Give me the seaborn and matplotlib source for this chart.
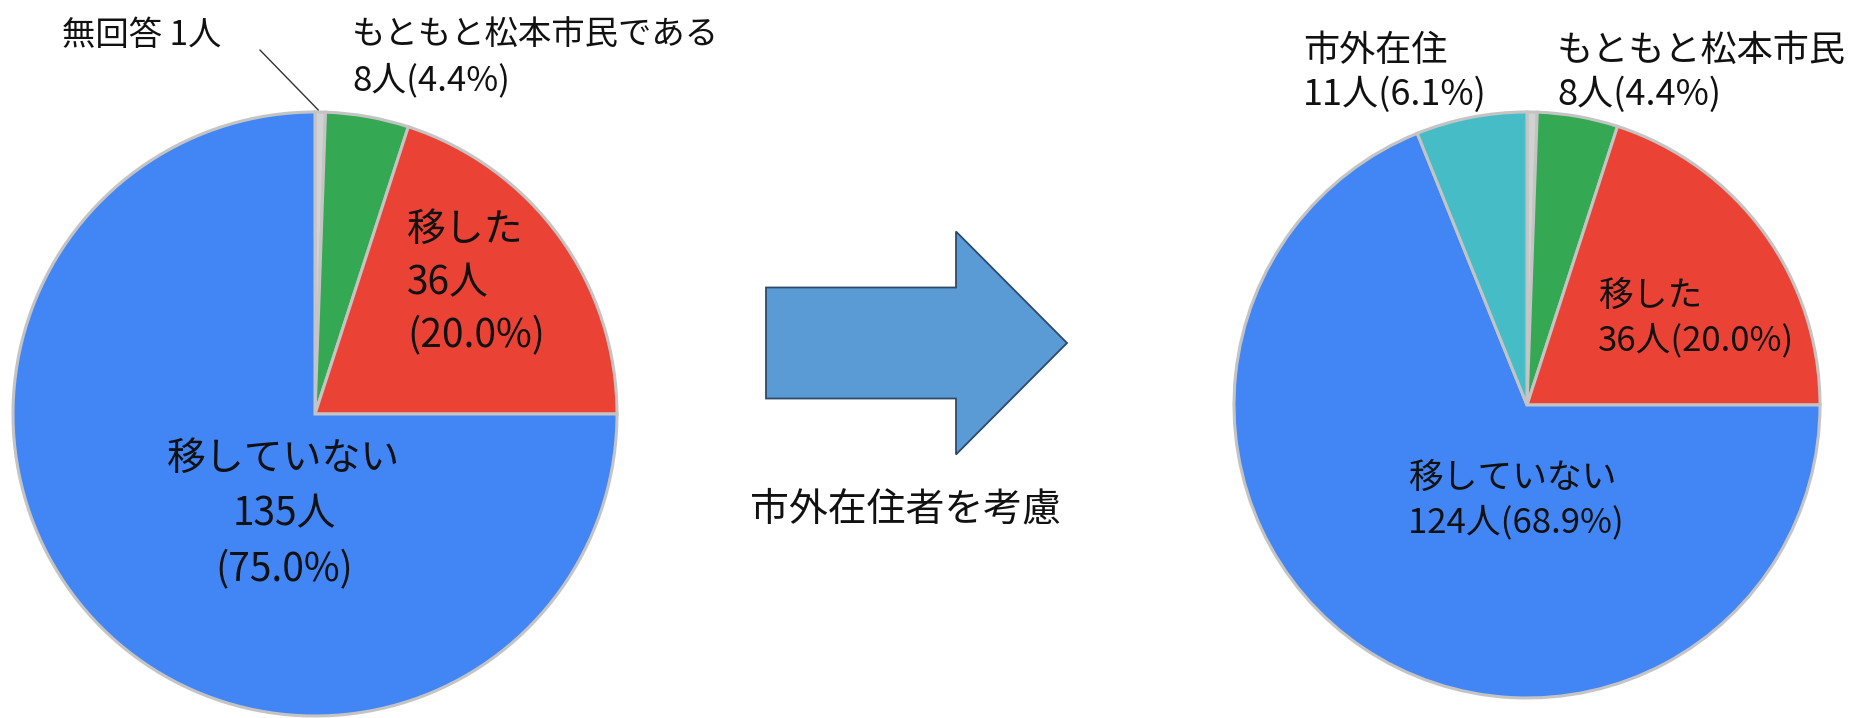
import numpy as np
import seaborn as sns
import matplotlib.pyplot as plt
from matplotlib.patches import FancyArrow

sns.set_theme(style="white")
plt.rcParams['font.family'] = ['Noto Sans CJK JP', 'DejaVu Sans']

# --- data ---
left_labels = ["無回答", "もともと松本市民である", "移した", "移していない"]
left_counts = [1, 8, 36, 135]
right_labels = ["無回答", "もともと松本市民", "移した", "移していない", "市外在住"]
right_counts = [1, 8, 36, 124, 11]
middle_text = "市外在住者を考慮"

colors = {
    "無回答": "#d2d2d2",
    "もともと松本市民である": "#34a853",
    "もともと松本市民": "#34a853",
    "移した": "#ea4335",
    "移していない": "#4285f4",
    "市外在住": "#46bdc6",
}

W, H = 1854, 718
fig = plt.figure(figsize=(W / 100, H / 100), dpi=100)
ax = fig.add_axes([0, 0, 1, 1])


def fy(py):
    return H - py


def pct(n, counts):
    return 100 * n / sum(counts)


wedge_kw = dict(edgecolor="#c4c4c4", linewidth=2.2)

# left pie
lc = (315, fy(414))
lr = 302
ax.pie(left_counts, colors=[colors[l] for l in left_labels], startangle=90,
       counterclock=False, center=lc, radius=lr, wedgeprops=wedge_kw, frame=True)

# right pie
rc = (1527, fy(405))
rr = 293
ax.pie(right_counts, colors=[colors[l] for l in right_labels], startangle=90,
       counterclock=False, center=rc, radius=rr, wedgeprops=wedge_kw, frame=True)
ax.set_xlim(0, W)
ax.set_ylim(0, H)
ax.set_aspect("equal")
ax.axis("off")

txt = "#111111"

# left pie labels
n = left_counts
ax.text(62, fy(18), f"{left_labels[0]} {n[0]}人", fontsize=24, color=txt,
        va="top", ha="left")
ax.text(352, fy(18), left_labels[1], fontsize=24, color=txt, va="top", ha="left")
ax.text(352, fy(63), f"{n[1]}人({pct(n[1], n):.1f}%)", fontsize=25, color=txt,
        va="top", ha="left")
ax.text(407, fy(210), f"{left_labels[2]}\n{n[2]}人\n({pct(n[2], n):.1f}%)",
        fontsize=28, color=txt, va="top", ha="left", linespacing=1.42)
ax.text(284, fy(439), f"{left_labels[3]}\n{n[3]}人\n({pct(n[3], n):.1f}%)",
        fontsize=28, color=txt, va="top", ha="center", linespacing=1.5)

# leader line for the tiny slice
ang = np.deg2rad(90 - 360 * n[0] / sum(n) / 2)
ax.annotate("", xy=(lc[0] + lr * np.cos(ang), lc[1] + lr * np.sin(ang)),
            xytext=(258, fy(48)),
            arrowprops=dict(arrowstyle="-", color="#333333", lw=1.0))

# arrow and middle text
arrow = FancyArrow(766, fy(343), 301, 0, width=111, head_width=223,
                   head_length=111, length_includes_head=True,
                   facecolor="#5b9bd5", edgecolor="#2d4a6b", linewidth=1.3)
ax.add_patch(arrow)
ax.text(906, fy(509), middle_text, fontsize=28, color=txt, va="center", ha="center")

# right pie labels
m = right_counts
ax.text(1303, fy(33), f"{right_labels[4]}\n{m[4]}人({pct(m[4], m):.1f}%)",
        fontsize=26, color=txt, va="top", ha="left", linespacing=1.28)
ax.text(1557, fy(33), f"{right_labels[1]}\n{m[1]}人({pct(m[1], m):.1f}%)",
        fontsize=26, color=txt, va="top", ha="left", linespacing=1.28)
ax.text(1598, fy(279), f"{right_labels[2]}\n{m[2]}人({pct(m[2], m):.1f}%)",
        fontsize=25, color=txt, va="top", ha="left", linespacing=1.36)
ax.text(1408, fy(461), f"{right_labels[3]}\n{m[3]}人({pct(m[3], m):.1f}%)",
        fontsize=25, color=txt, va="top", ha="left", linespacing=1.36)

fig.savefig("out.png", dpi=100, facecolor="white")
